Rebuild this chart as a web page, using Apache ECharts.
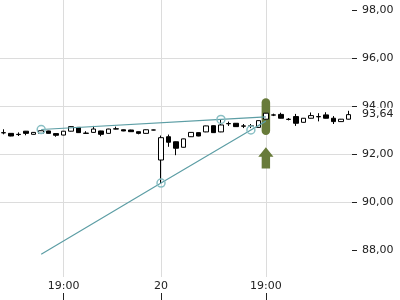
<!DOCTYPE html>
<html><head><meta charset="utf-8">
<script src="https://cdn.jsdelivr.net/npm/echarts@6/dist/echarts.min.js"></script>
<style>html,body{margin:0;padding:0;background:#fff}#c{width:400px;height:300px}</style>
</head><body><div id="c"></div>
<script>
const categories = ['1','2','3','4','5','6','7','8','9','10','11','12','13','14','15','16','17','18','19','20','21','22','23','24','25','26','27','28','29','30','31','32','33','34','35','36','37','38','39','40','41','42','43','44','45','46','47'];
const tickIndex = [8, 21, 35];
const tickLabels = ['19:00', '20', '19:00'];
const yTicks = [88, 90, 92, 94, 96, 98];
const yMin = 86.875, yMax = 98.4167;

const open  = [92.88,92.86,92.82,92.95,92.82,92.86,92.96,92.85,92.79,92.95,93.11,92.87,92.90,92.96,92.86,93.05,93.01,93.00,92.93,92.86,93.00,91.75,92.72,92.51,92.28,92.72,92.89,92.92,93.18,92.92,93.26,93.28,93.17,93.17,93.11,93.45,93.63,93.65,93.45,93.56,93.32,93.49,93.56,93.63,93.49,93.35,93.45];
const close = [92.89,92.75,92.81,92.86,92.90,92.97,92.86,92.78,92.95,93.14,92.89,92.86,93.04,92.82,93.04,93.04,92.96,92.93,92.86,93.01,93.00,92.68,92.49,92.24,92.63,92.90,92.75,93.17,92.89,93.21,93.27,93.14,93.16,93.16,93.39,93.70,93.62,93.49,93.44,93.28,93.49,93.60,93.55,93.49,93.35,93.45,93.64];
const low   = [92.82,92.74,92.75,92.78,92.81,92.85,92.85,92.72,92.78,92.94,92.88,92.85,92.89,92.74,92.85,93.03,92.95,92.92,92.82,92.85,92.99,90.79,92.30,91.95,92.27,92.71,92.74,92.91,92.88,92.91,93.17,93.13,93.08,93.08,93.10,93.44,93.58,93.48,93.40,93.17,93.31,93.48,93.36,93.48,93.25,93.34,93.44];
const high  = [93.03,92.87,92.90,92.96,92.91,92.98,92.97,92.86,92.96,93.15,93.12,92.95,93.17,92.97,93.05,93.14,93.02,93.01,92.94,93.02,93.01,92.77,92.81,92.52,92.64,92.91,92.90,93.18,93.19,93.45,93.35,93.29,93.25,93.25,93.40,93.71,93.68,93.72,93.50,93.67,93.50,93.73,93.70,93.74,93.58,93.46,93.80];

const trendA = [[5, 93.02], [29, 93.44], [35, 93.545]];
const trendACircles = [5, 29];
const trendB = [[5, 87.82], [21, 90.79], [33, 93.00], [35, 93.37]];
const trendBCircles = [21, 33];

const markerIndex = 35;
const markerBar = [94.15, 92.97];
const markerArrow = [92.28, 91.40];

const lastPrice = close[close.length - 1];

const fmt = v => Number(v).toFixed(2).replace('.', ',');
const FONT = 'DejaVu Sans';
const GREEN = '#687b3a';
const TEAL = '#5d9ea5';

function trendData(pts, circles) {
  return pts.map(p => ({ value: p, symbol: circles.includes(p[0]) ? 'circle' : 'none' }));
}

const chart = echarts.init(document.getElementById('c'), null, { renderer: 'canvas' });
chart.setOption({
  animation: false,
  backgroundColor: '#fff',
  grid: { left: 0, right: 48, top: 0, bottom: 23 },
  xAxis: [{
    type: 'category', data: categories, boundaryGap: true,
    axisLine: { show: false }, axisTick: { show: false },
    axisLabel: {
      interval: (i) => tickIndex.includes(i),
      formatter: (v, i) => tickLabels[tickIndex.indexOf(i)] || '',
      margin: 4, fontSize: 11, color: '#222', fontFamily: FONT
    },
    splitLine: { show: true, interval: (i) => tickIndex.includes(i), alignWithLabel: true, lineStyle: { color: '#dcdcdc', width: 1 } }
  }, {
    type: 'category', data: categories, boundaryGap: true, position: 'bottom', offset: 16,
    axisLine: { show: false }, axisLabel: { show: false }, splitLine: { show: false },
    axisTick: { show: true, length: 7, interval: (i) => tickIndex.includes(i), alignWithLabel: true, lineStyle: { color: '#222' } }
  }],
  yAxis: {
    type: 'value', position: 'right', min: yMin, max: yMax,
    axisLine: { show: false },
    axisTick: { show: true, length: 5, customValues: yTicks, lineStyle: { color: '#222' } },
    axisLabel: { customValues: yTicks, margin: 10, formatter: fmt, fontSize: 11, color: '#222', fontFamily: FONT },
    splitLine: { show: true, showMinLine: false, showMaxLine: false, lineStyle: { color: '#dcdcdc', width: 1 } }
  },
  series: [{
    type: 'line', z: 1, silent: true, symbol: 'none',
    data: [[markerIndex, markerBar[0]], [markerIndex, markerBar[1]]],
    lineStyle: { color: GREEN, width: 8.5, cap: 'round' }
  }, {
    type: 'custom', z: 1, silent: true,
    encode: { x: 0, y: [1, 2] },
    data: [[markerIndex, markerArrow[0], markerArrow[1]]],
    renderItem: (params, api) => {
      const tip = api.coord([api.value(0), api.value(1)]);
      const base = api.coord([api.value(0), api.value(2)]);
      const x = tip[0], t = tip[1], hw = 7.6, sw = 4.2, hh = 9.4;
      return {
        type: 'polygon',
        shape: { points: [[x, t], [x + hw, t + hh], [x + sw, t + hh], [x + sw, base[1]], [x - sw, base[1]], [x - sw, t + hh], [x - hw, t + hh]] },
        style: { fill: GREEN }
      };
    }
  }, {
    type: 'candlestick', z: 3, barWidth: 5,
    data: open.map((o, i) => [o, close[i], low[i], high[i]]),
    itemStyle: { color: '#fff', color0: '#000', borderColor: '#000', borderColor0: '#000', borderWidth: 1 },
    markLine: {
      silent: true, symbol: ['none', 'none'], z: 10,
      lineStyle: { color: 'rgba(0,0,0,0)', width: 0, type: 'solid' },
      data: [{ yAxis: lastPrice }],
      label: { show: true, opacity: 1, position: 'end', distance: 10, formatter: () => fmt(lastPrice), color: '#222', fontSize: 11, fontFamily: FONT, backgroundColor: '#fff', padding: [2, 4, 1, 0] }
    }
  }, {
    type: 'line', z: 4, silent: true, symbolSize: 8, showAllSymbol: true,
    data: trendData(trendA, trendACircles),
    lineStyle: { color: TEAL, width: 1.2 },
    itemStyle: { color: 'rgba(0,0,0,0)', borderColor: '#89bfc4', borderWidth: 1.5 }
  }, {
    type: 'line', z: 4, silent: true, symbolSize: 8, showAllSymbol: true,
    data: trendData(trendB, trendBCircles),
    lineStyle: { color: TEAL, width: 1.2 },
    itemStyle: { color: 'rgba(0,0,0,0)', borderColor: '#89bfc4', borderWidth: 1.5 }
  }]
});
</script>
</body></html>
